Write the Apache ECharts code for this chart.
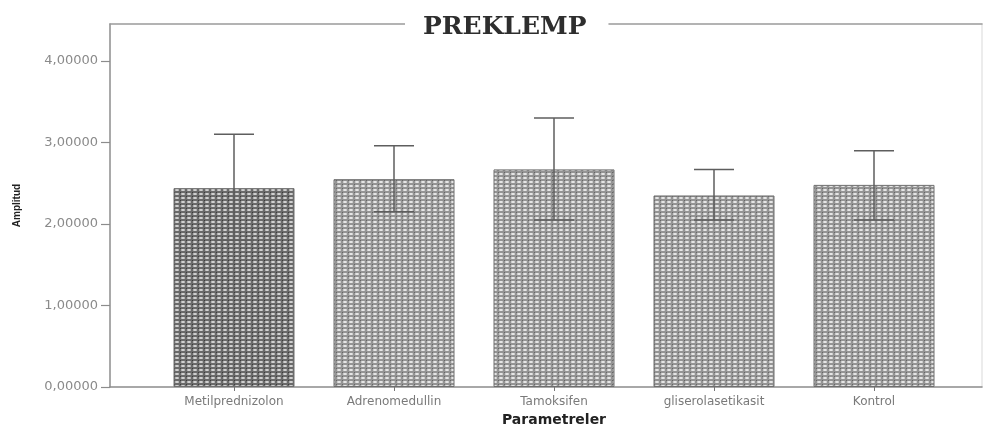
<!DOCTYPE html>
<html>
<head>
<meta charset="utf-8">
<script src="https://cdn.jsdelivr.net/npm/echarts@6/dist/echarts.min.js"></script>
<style>html,body{margin:0;padding:0;background:#fff}#c{width:989px;height:428px}</style>
</head>
<body>
<div id="c"></div>
<script>
const categories = ['Metilprednizolon', 'Adrenomedullin', 'Tamoksifen', 'gliserolasetikasit', 'Kontrol'];
const means = [2.44, 2.55, 2.67, 2.35, 2.48];
const errLow = [1.80, 2.15, 2.05, 2.05, 2.05];
const errHigh = [3.10, 2.96, 3.30, 2.67, 2.90];
const yTicks = [0, 1, 2, 3, 4];
const titleText = 'PREKLEMP';
const xName = 'Parametreler';
const yName = 'Amplitud';

function makePattern(bg, hole, dot) {
  const c = document.createElement('canvas');
  c.width = 6; c.height = 4;
  const g = c.getContext('2d');
  g.fillStyle = bg; g.fillRect(0, 0, 6, 4);
  g.fillStyle = hole;
  g.beginPath(); g.ellipse(3, 2, 2.1, 1.1, 0, 0, Math.PI * 2); g.fill();
  g.fillStyle = dot; g.fillRect(0, 0, 1, 1);
  return { image: c, repeat: 'repeat' };
}
const darkPat = makePattern('#6a6a6a', '#dadada', '#3c3c3c');
const lightPat = makePattern('#949494', '#ececec', '#666666');

const yMax = 4.454;
const chart = echarts.init(document.getElementById('c'), null, { renderer: 'canvas' });
chart.setOption({
  animation: false,
  backgroundColor: '#fff',
  title: {
    text: titleText,
    left: 405,
    top: 15,
    padding: [0, 22, 0, 18],
    backgroundColor: '#fff',
    textStyle: { fontFamily: 'DejaVu Serif', fontSize: 25, fontWeight: 'bold', color: '#2e2e2e' }
  },
  grid: [
    { left: 110, right: 7, top: 24, bottom: 41, outerBoundsMode: 'none' },
    { left: 154, right: 35, top: 24, bottom: 41, outerBoundsMode: 'none' }
  ],
  xAxis: [
    { gridIndex: 0, type: 'value', min: 0, max: 1, position: 'bottom',
      axisLine: { show: true, onZero: false, lineStyle: { color: '#8c8c8c', width: 1.5 } },
      axisTick: { show: false }, axisLabel: { show: false }, splitLine: { show: false } },
    { gridIndex: 0, type: 'value', min: 0, max: 1, position: 'top',
      axisLine: { show: true, onZero: false, lineStyle: { color: '#9a9a9a', width: 1.5 } },
      axisTick: { show: false }, axisLabel: { show: false }, splitLine: { show: false } },
    { gridIndex: 1, type: 'category', data: categories,
      axisLine: { show: false },
      axisTick: { show: true, alignWithLabel: true, length: 4, lineStyle: { color: '#777' } },
      axisLabel: { margin: 9, fontFamily: 'DejaVu Sans', fontSize: 12, color: '#7a7a7a' },
      name: xName, nameLocation: 'middle', nameGap: 24,
      nameTextStyle: { fontFamily: 'DejaVu Sans', fontSize: 14, fontWeight: 'bold', color: '#222' } }
  ],
  yAxis: [
    { gridIndex: 0, type: 'value', min: 0, max: yMax,
      axisLine: { show: true, onZero: false, lineStyle: { color: '#8c8c8c', width: 1.5 } },
      axisTick: { show: true, length: 9, customValues: yTicks, lineStyle: { color: '#8c8c8c', width: 1.2 } },
      axisLabel: { margin: 12, fontFamily: 'DejaVu Sans', fontSize: 13, color: '#8a8a8a', customValues: yTicks,
        formatter: v => v.toFixed(5).replace('.', ',') },
      splitLine: { show: false },
      name: yName, nameLocation: 'middle', nameRotate: 90, nameGap: 88,
      nameTextStyle: { fontFamily: 'Liberation Sans', fontSize: 10, fontWeight: 'bold', color: '#222' } },
    { gridIndex: 0, type: 'value', min: 0, max: yMax, position: 'right',
      axisLine: { show: true, onZero: false, lineStyle: { color: '#e6e6e6', width: 1.5 } },
      axisTick: { show: false }, axisLabel: { show: false }, splitLine: { show: false } },
    { gridIndex: 1, type: 'value', min: 0, max: yMax, show: false }
  ],
  series: [
    { type: 'bar', xAxisIndex: 2, yAxisIndex: 2, barWidth: 121,
      data: means.map((v, i) => ({
        value: v,
        itemStyle: { color: i === 0 ? darkPat : lightPat, borderColor: '#6e6e6e', borderWidth: 1 }
      })) },
    { type: 'custom', xAxisIndex: 2, yAxisIndex: 2, z: 5,
      data: categories.map((c, i) => [i, errLow[i], errHigh[i]]),
      renderItem: function (params, api) {
        const x = api.value(0);
        const lo = api.coord([x, api.value(1)]);
        const hi = api.coord([x, api.value(2)]);
        const hw = 20;
        const st = { stroke: '#5e5e5e', lineWidth: 1.5 };
        return { type: 'group', children: [
          { type: 'line', shape: { x1: hi[0], y1: hi[1], x2: lo[0], y2: lo[1] }, style: st },
          { type: 'line', shape: { x1: hi[0] - hw, y1: hi[1], x2: hi[0] + hw, y2: hi[1] }, style: st },
          { type: 'line', shape: { x1: lo[0] - hw, y1: lo[1], x2: lo[0] + hw, y2: lo[1] }, style: st }
        ] };
      } }
  ]
});
</script>
</body>
</html>
